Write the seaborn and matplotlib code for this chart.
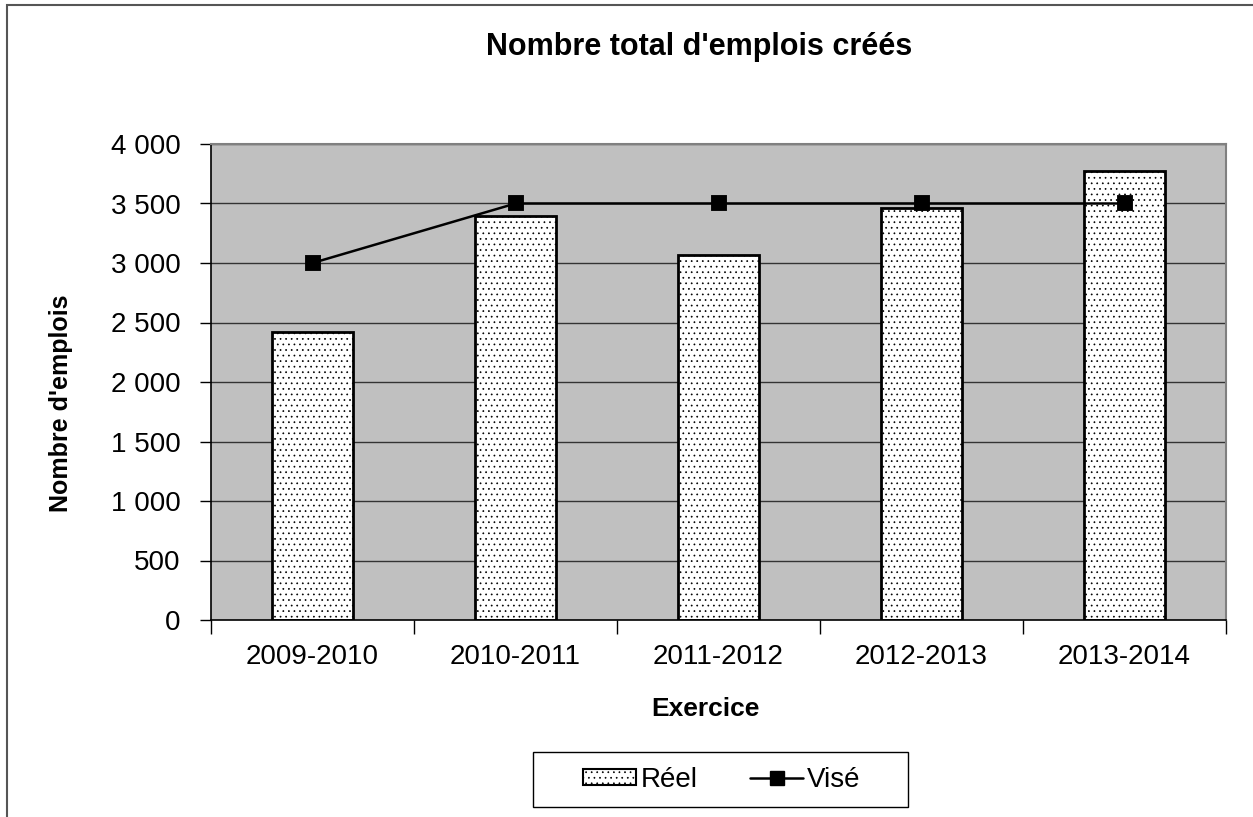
import matplotlib
matplotlib.use("Agg")
import matplotlib.pyplot as plt
import seaborn as sns
from matplotlib.patches import Patch, Rectangle
from matplotlib.lines import Line2D
from matplotlib.ticker import FuncFormatter, FixedLocator

# Data
exercices = ["2009-2010", "2010-2011", "2011-2012", "2012-2013", "2013-2014"]
reel = [2420, 3395, 3065, 3465, 3775]
vise = [3000, 3500, 3500, 3500, 3500]
y_ticks = [0, 500, 1000, 1500, 2000, 2500, 3000, 3500, 4000]

sns.set_theme(style="white")
plt.rcParams["font.family"] = ["Liberation Sans", "DejaVu Sans"]
plt.rcParams["text.color"] = "black"
plt.rcParams["axes.labelcolor"] = "black"
plt.rcParams["xtick.color"] = "black"
plt.rcParams["ytick.color"] = "black"
plt.rcParams["hatch.color"] = "#555555"
plt.rcParams["hatch.linewidth"] = 0.5

W, H = 1253, 817
fig = plt.figure(figsize=(W / 100, H / 100), dpi=100)
ax = fig.add_axes([211 / W, 1 - 620 / H, (1226 - 211) / W, (620 - 144) / H])
ax.set_facecolor("#C0C0C0")

# horizontal gridlines behind everything
for v in y_ticks[1:]:
    ax.axhline(v, color="#333333", linewidth=1.0, zorder=0)

sns.barplot(x=exercices, y=reel, ax=ax, color="white", width=0.4,
            edgecolor="black", linewidth=2.0, hatch="...", zorder=2)
for p in ax.patches:
    p.set_facecolor("white")

sns.pointplot(x=exercices, y=vise, ax=ax, color="black", marker="s",
              markersize=10, linewidth=1.8, errorbar=None, zorder=3)

ax.set_ylim(0, 4000)
ax.set_xlim(-0.5, 4.5)
ax.yaxis.set_major_locator(FixedLocator(y_ticks))
ax.yaxis.set_major_formatter(FuncFormatter(lambda v, _: f"{int(v):,}".replace(",", " ")))
ax.tick_params(axis="y", which="major", direction="out", length=8, width=1,
               color="black", labelsize=20, pad=14, left=True)
ax.tick_params(axis="x", which="major", length=0, labelsize=20, pad=17)
ax.set_xticks([i + 0.5 for i in range(-1, 5)], minor=True)
ax.tick_params(axis="x", which="minor", direction="out", length=10, width=1,
               color="black", bottom=True)

for side in ["left", "bottom"]:
    ax.spines[side].set_color("black")
    ax.spines[side].set_linewidth(1.2)
for side in ["top", "right"]:
    ax.spines[side].set_color("#808080")
    ax.spines[side].set_linewidth(1.5)

ax.set_xlabel("Exercice", fontsize=19, fontweight="bold")
ax.xaxis.set_label_coords((705 - 211) / 1015, (620 - 697) / 476)
ax.set_ylabel("Nombre d'emplois", fontsize=18, fontweight="bold")
ax.yaxis.set_label_coords((73 - 211) / 1015, (620 - 403) / 476)

fig.text(699 / W, 1 - 47 / H, "Nombre total d'emplois créés",
         ha="center", va="center", fontsize=22, fontweight="bold")

handles = [
    Patch(facecolor="white", edgecolor="black", hatch="...", linewidth=1.5),
    Line2D([0], [0], color="black", marker="s", markersize=10, linewidth=1.8),
]
leg = fig.legend(handles, ["Réel", "Visé"], loc="center",
                 bbox_to_anchor=(722 / W, 1 - 780 / H), ncol=2,
                 fontsize=20, frameon=False,
                 handlelength=1.9, handleheight=0.5, handletextpad=0.15,
                 columnspacing=1.9, borderpad=0, borderaxespad=0)

# legend box and outer chart-area border (left/top edges visible)
fig.patches.append(Rectangle((533 / W, 1 - 807 / H), 375 / W, 55 / H,
                             transform=fig.transFigure, fill=False,
                             edgecolor="black", linewidth=1.0))
fig.patches.append(Rectangle((7 / W, -0.1), 1.2, 1 - 5 / H + 0.1,
                             transform=fig.transFigure, fill=False,
                             edgecolor="#555555", linewidth=1.5))

fig.savefig("out.png", dpi=100)
